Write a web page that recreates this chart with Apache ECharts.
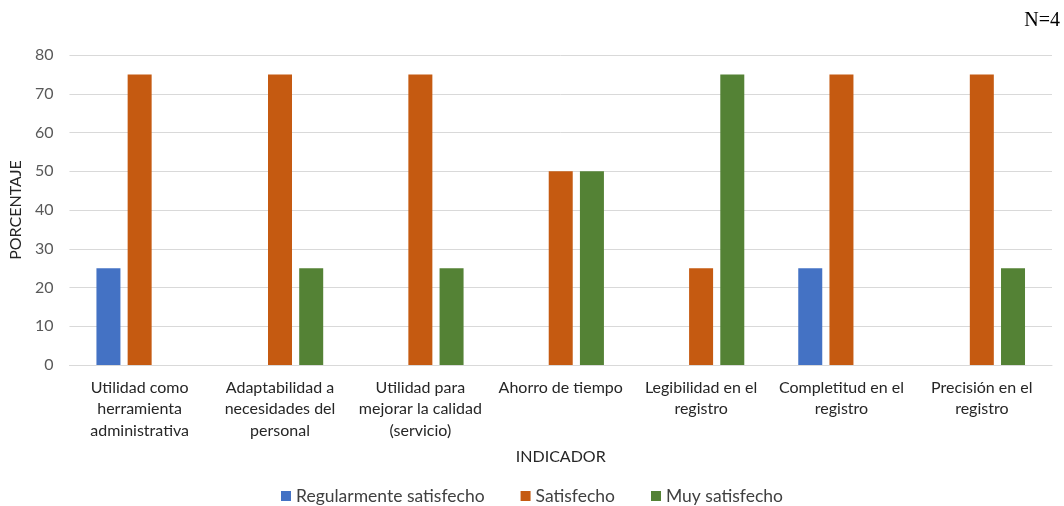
<!DOCTYPE html>
<html>
<head>
<meta charset="utf-8">
<script src="https://cdn.jsdelivr.net/npm/echarts@6/dist/echarts.min.js"></script>
<style>
  html, body { margin: 0; padding: 0; background: #fff; }
  #chart { width: 1064px; height: 506px; }
</style>
</head>
<body>
<div id="chart"></div>
<script>
// Indicadores evaluados (eje X)
const categories = [
  'Utilidad como\nherramienta\nadministrativa',
  'Adaptabilidad a\nnecesidades del\npersonal',
  'Utilidad para\nmejorar la calidad\n(servicio)',
  'Ahorro de tiempo',
  'Legibilidad en el\nregistro',
  'Completitud en el\nregistro',
  'Precisión en el\nregistro'
];

// Porcentaje por nivel de satisfacción
const regularmente = [25, 0, 0, 0, 0, 25, 0];
const satisfecho   = [75, 75, 75, 50, 25, 75, 75];
const muySatisfecho = [0, 25, 25, 50, 75, 0, 25];

const yTicks = { min: 0, max: 80, interval: 10 };

const font = 'Lato, "Open Sans", sans-serif';

const chart = echarts.init(document.getElementById('chart'));

function bar(name, data, color) {
  return {
    name: name,
    type: 'bar',
    data: data.map(v => (v === 0 ? null : v)),
    barWidth: 24,
    barGap: '30%',
    itemStyle: { color: color },
    emphasis: { disabled: true }
  };
}

chart.setOption({
  animation: false,
  textStyle: { fontFamily: font },
  grid: { left: 68, right: 12, top: 55, bottom: 141, containLabel: false },
  graphic: [{
    type: 'text',
    right: 4,
    top: 11,
    style: { text: 'N=4', font: '20px "Liberation Serif", "DejaVu Serif", serif', fill: '#000' }
  }],
  legend: {
    bottom: 0,
    left: 'center',
    padding: [0, 5, 1, 5],
    itemWidth: 10,
    itemHeight: 10,
    itemGap: 36,
    icon: 'rect',
    textStyle: { fontFamily: font, fontSize: 17.5, color: '#404040' },
    data: ['Regularmente satisfecho', 'Satisfecho', 'Muy satisfecho']
  },
  xAxis: {
    type: 'category',
    data: categories,
    name: 'INDICADOR',
    nameLocation: 'middle',
    nameGap: 84,
    nameTextStyle: { fontFamily: font, fontSize: 16, color: '#262626' },
    axisLine: { lineStyle: { color: '#d9d9d9' } },
    axisTick: { show: false },
    axisLabel: {
      interval: 0,
      fontSize: 16,
      lineHeight: 21.5,
      color: '#262626',
      margin: 12
    }
  },
  yAxis: {
    type: 'value',
    min: yTicks.min,
    max: yTicks.max,
    interval: yTicks.interval,
    name: 'PORCENTAJE',
    nameLocation: 'middle',
    nameGap: 44,
    nameTextStyle: { fontFamily: font, fontSize: 16, color: '#262626' },
    axisLine: { show: false },
    axisTick: { show: false },
    axisLabel: { fontSize: 16, color: '#595959', margin: 16 },
    splitLine: { lineStyle: { color: '#d9d9d9', width: 1 } }
  },
  series: [
    bar('Regularmente satisfecho', regularmente, '#4472C4'),
    bar('Satisfecho', satisfecho, '#C55A11'),
    bar('Muy satisfecho', muySatisfecho, '#548235')
  ]
});
</script>
</body>
</html>
